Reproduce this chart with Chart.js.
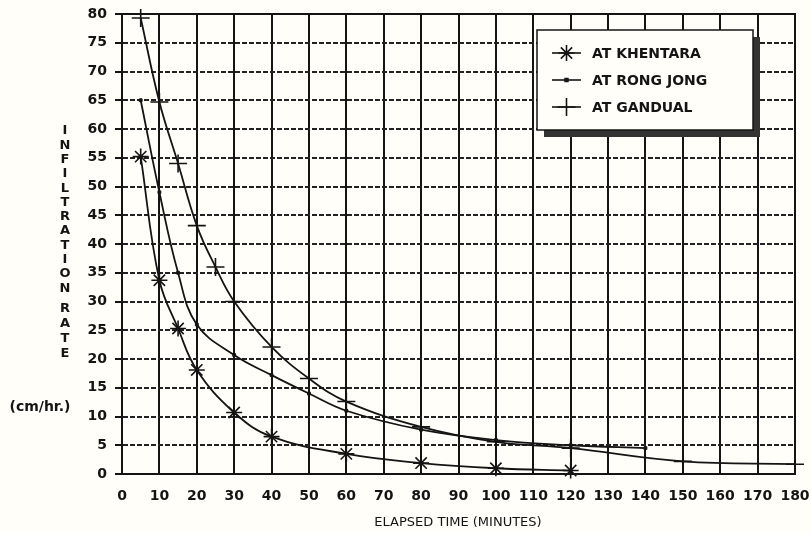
<!DOCTYPE html>
<html>
<head>
<meta charset="utf-8">
<title>Infiltration rate</title>
<script src="https://cdn.jsdelivr.net/npm/chart.js@4.4.1/dist/chart.umd.min.js"></script>
<style>
  html, body { margin: 0; padding: 0; background: #fffef8; }
  #wrap { position: relative; width: 811px; height: 533px; }
</style>
</head>
<body>
<div id="wrap"><canvas id="infiltration-chart"></canvas></div>
<script>
// values (minutes / cm per hr)
const khentaraTime = [5, 10, 15, 20, 30, 40, 60, 80, 100, 120]
const khentaraRate = [55.2, 33.7, 25.3, 18.1, 10.7, 6.5, 3.5, 1.9, 1.0, 0.6]

const rongJongTime = [5, 10, 15, 20, 30, 40, 50, 60, 80, 100, 120, 140]
const rongJongRate = [65, 49, 35, 26, 20.7, 17.2, 14, 11, 7.7, 5.9, 5.0, 4.5]

const gandualTime = [5, 10, 15, 20, 25, 30, 40, 50, 60, 80, 100, 120, 150, 180]
const gandualRate = [79.3, 64.7, 54, 43.2, 36, 30, 22.1, 16.6, 12.6, 8.2, 5.6, 4.5, 2.2, 1.7]

const seriesLabels = ['AT KHENTARA', 'AT RONG JONG', 'AT GANDUAL']
const yTitleWords = ['INFILTRATION', 'RATE']
const yUnits = '(cm/hr.)'
const xTitle = 'ELAPSED TIME (MINUTES)'

const INK = '#141414'
const PAPER = '#fffef8'
const TICK_FONT = { family: "'DejaVu Sans', sans-serif", size: 14, weight: 'bold' }

const toPoints = (xs, ys) => xs.map((x, i) => ({ x, y: ys[i] }))

const baseLine = {
  borderColor: INK,
  backgroundColor: INK,
  borderWidth: 1.8,
  pointBorderColor: INK,
  pointBackgroundColor: INK,
  tension: 0.4,
  fill: false,
  clip: false,
}

const datasets = [
  { ...baseLine, label: seriesLabels[0], data: toPoints(khentaraTime, khentaraRate),
    pointStyle: 'star', pointRadius: 8, pointBorderWidth: 1.6 },
  { ...baseLine, label: seriesLabels[1], data: toPoints(rongJongTime, rongJongRate),
    pointStyle: 'rect', pointRadius: 2, pointBorderWidth: 1 },
  { ...baseLine, label: seriesLabels[2], data: toPoints(gandualTime, gandualRate),
    pointStyle: 'cross', pointRadius: 9, pointBorderWidth: 1.6 },
]

// frame, legend box and the hand-lettered axis titles
const decorations = {
  id: 'decorations',
  afterDraw(chart) {
    const { ctx, chartArea: a } = chart
    ctx.save()

    // solid frame round the plot
    ctx.strokeStyle = INK
    ctx.lineWidth = 2
    ctx.setLineDash([])
    ctx.strokeRect(a.left, a.top, a.right - a.left, a.bottom - a.top)

    // legend with drop shadow
    const box = { x: 537, y: 30, w: 216, h: 100 }
    ctx.fillStyle = '#333'
    ctx.fillRect(box.x + 7, box.y + 7, box.w, box.h)
    ctx.fillStyle = PAPER
    ctx.fillRect(box.x, box.y, box.w, box.h)
    ctx.lineWidth = 1.5
    ctx.strokeRect(box.x, box.y, box.w, box.h)

    ctx.font = "bold 14px 'DejaVu Sans', sans-serif"
    ctx.textBaseline = 'middle'
    ctx.textAlign = 'left'
    chart.data.datasets.forEach((ds, i) => {
      const y = box.y + 23 + i * 27
      ctx.strokeStyle = INK
      ctx.lineWidth = 1.6
      ctx.beginPath()
      ctx.moveTo(552, y)
      ctx.lineTo(581, y)
      ctx.stroke()
      Chart.helpers.drawPoint(ctx, {
        pointStyle: ds.pointStyle,
        radius: ds.pointRadius,
        borderWidth: ds.pointBorderWidth,
        rotation: 0,
      }, 566.5, y)
      ctx.fillStyle = INK
      ctx.fillText(ds.label, 592, y + 1)
    })

    // stacked letters on the y side
    ctx.font = "bold 13px 'DejaVu Sans', sans-serif"
    ctx.textAlign = 'center'
    ctx.fillStyle = INK
    const first = yTitleWords[0]
    for (let i = 0; i < first.length; i++) ctx.fillText(first[i], 65, 131 + i * 14.3)
    const second = yTitleWords[1]
    for (let i = 0; i < second.length; i++) ctx.fillText(second[i], 65, 309 + i * 15)
    ctx.font = "bold 14px 'DejaVu Sans', sans-serif"
    ctx.fillText(yUnits, 40, 407)

    // x title
    ctx.font = "13px 'DejaVu Sans', sans-serif"
    ctx.fillText(xTitle, 458, 523)

    ctx.restore()
  },
}

new Chart(document.getElementById('infiltration-chart'), {
  type: 'line',
  data: { datasets },
  plugins: [decorations],
  options: {
    responsive: true,
    maintainAspectRatio: false,
    animation: false,
    layout: { padding: { top: 14, right: 0, left: 0, bottom: 0 } },
    plugins: {
      legend: { display: false },
      tooltip: { enabled: false },
    },
    scales: {
      x: {
        type: 'linear',
        min: 0,
        max: 180,
        afterFit: s => { s.height = 59; s.paddingLeft = 0; s.paddingRight = 16 },
        ticks: { stepSize: 10, color: INK, font: TICK_FONT, padding: 14, maxRotation: 0, autoSkip: false },
        grid: { color: INK, lineWidth: 2, drawTicks: false },
        border: { color: INK, width: 2 },
      },
      y: {
        min: 0,
        max: 80,
        afterFit: s => { s.width = 122; s.paddingTop = 0; s.paddingBottom = 0 },
        ticks: { stepSize: 5, color: INK, font: TICK_FONT, padding: 8 },
        grid: { color: '#222', lineWidth: 2, tickLength: 7, tickColor: INK },
        border: { color: INK, width: 2, dash: [5, 2] },
      },
    },
  },
})
</script>
</body>
</html>
